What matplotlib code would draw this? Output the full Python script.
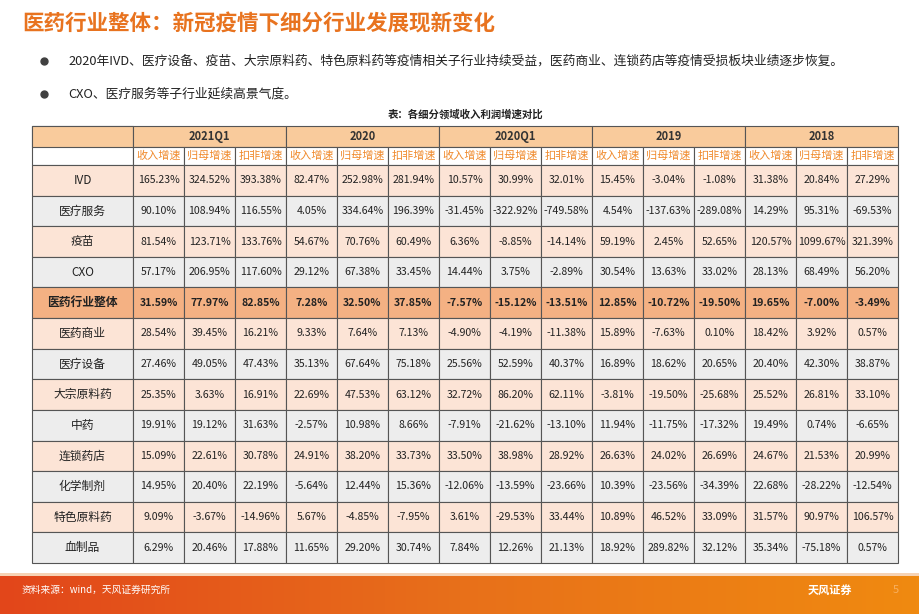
import matplotlib
matplotlib.use("Agg")
import matplotlib.pyplot as plt
from matplotlib.patches import Rectangle
from matplotlib.colors import LinearSegmentedColormap
import numpy as np

plt.rcParams['font.family'] = ['Noto Sans CJK SC', 'DejaVu Sans']

periods = ["2021Q1", "2020", "2020Q1", "2019", "2018"]
metrics = ["收入增速", "归母增速", "扣非增速"]
categories = ["IVD", "医疗服务", "疫苗", "CXO", "医药行业整体", "医药商业", "医疗设备",
              "大宗原料药", "中药", "连锁药店", "化学制剂", "特色原料药", "血制品"]
v_2021q1 = [[165.23, 324.52, 393.38], [90.10, 108.94, 116.55], [81.54, 123.71, 133.76],
            [57.17, 206.95, 117.60], [31.59, 77.97, 82.85], [28.54, 39.45, 16.21],
            [27.46, 49.05, 47.43], [25.35, 3.63, 16.91], [19.91, 19.12, 31.63],
            [15.09, 22.61, 30.78], [14.95, 20.40, 22.19], [9.09, -3.67, -14.96],
            [6.29, 20.46, 17.88]]
v_2020 = [[82.47, 252.98, 281.94], [4.05, 334.64, 196.39], [54.67, 70.76, 60.49],
          [29.12, 67.38, 33.45], [7.28, 32.50, 37.85], [9.33, 7.64, 7.13],
          [35.13, 67.64, 75.18], [22.69, 47.53, 63.12], [-2.57, 10.98, 8.66],
          [24.91, 38.20, 33.73], [-5.64, 12.44, 15.36], [5.67, -4.85, -7.95],
          [11.65, 29.20, 30.74]]
v_2020q1 = [[10.57, 30.99, 32.01], [-31.45, -322.92, -749.58], [6.36, -8.85, -14.14],
            [14.44, 3.75, -2.89], [-7.57, -15.12, -13.51], [-4.90, -4.19, -11.38],
            [25.56, 52.59, 40.37], [32.72, 86.20, 62.11], [-7.91, -21.62, -13.10],
            [33.50, 38.98, 28.92], [-12.06, -13.59, -23.66], [3.61, -29.53, 33.44],
            [7.84, 12.26, 21.13]]
v_2019 = [[15.45, -3.04, -1.08], [4.54, -137.63, -289.08], [59.19, 2.45, 52.65],
          [30.54, 13.63, 33.02], [12.85, -10.72, -19.50], [15.89, -7.63, 0.10],
          [16.89, 18.62, 20.65], [-3.81, -19.50, -25.68], [11.94, -11.75, -17.32],
          [26.63, 24.02, 26.69], [10.39, -23.56, -34.39], [10.89, 46.52, 33.09],
          [18.92, 289.82, 32.12]]
v_2018 = [[31.38, 20.84, 27.29], [14.29, 95.31, -69.53], [120.57, 1099.67, 321.39],
          [28.13, 68.49, 56.20], [19.65, -7.00, -3.49], [18.42, 3.92, 0.57],
          [20.40, 42.30, 38.87], [25.52, 26.81, 33.10], [19.49, 0.74, -6.65],
          [24.67, 21.53, 20.99], [22.68, -28.22, -12.54], [31.57, 90.97, 106.57],
          [35.34, -75.18, 0.57]]
all_vals = [v_2021q1, v_2020, v_2020q1, v_2019, v_2018]

W, H = 920, 614
fig = plt.figure(figsize=(W/100, H/100), dpi=100)
ax = fig.add_axes([0, 0, 1, 1])
ax.set_xlim(0, W); ax.set_ylim(H, 0); ax.axis('off')

ax.text(22, 24, "医药行业整体：新冠疫情下细分行业发展现新变化", fontsize=15.5, color="#E8731F",
        fontweight='bold', va='center')
ax.plot([44], [61], 'o', ms=5, color="#404040")
ax.text(68, 61, "2020年IVD、医疗设备、疫苗、大宗原料药、特色原料药等疫情相关子行业持续受益，医药商业、连锁药店等疫情受损板块业绩逐步恢复。",
        fontsize=9.2, color="#222222", va='center')
ax.plot([44], [94], 'o', ms=5, color="#404040")
ax.text(68, 94, "CXO、医疗服务等子行业延续高景气度。", fontsize=9.2, color="#222222", va='center')
ax.text(466, 114, "表：各细分领域收入利润增速对比", fontsize=7.5, color="#222222",
        ha='center', va='center', fontweight='bold')

x0, lw_, cw = 32, 101, 51
y0, h1, h2 = 126, 21, 18
rh = (563 - (y0 + h1 + h2)) / len(categories)
edge = "#555555"
hdr = "#F9CB9C"

ax.add_patch(Rectangle((x0, y0), lw_, h1 + h2, facecolor="white", edgecolor=edge, lw=0.8))
ax.add_patch(Rectangle((x0, y0), lw_, h1, facecolor=hdr, edgecolor=edge, lw=0.8))
for i, p in enumerate(periods):
    xs = x0 + lw_ + i * 3 * cw
    ax.add_patch(Rectangle((xs, y0), 3 * cw, h1, facecolor=hdr, edgecolor=edge, lw=0.8))
    ax.text(xs + 1.5 * cw, y0 + h1 / 2, p, fontsize=8, fontweight='bold', color="#333333",
            ha='center', va='center')
    for j, m in enumerate(metrics):
        xc = xs + j * cw
        ax.add_patch(Rectangle((xc, y0 + h1), cw, h2, facecolor="white", edgecolor=edge, lw=0.8))
        ax.text(xc + cw / 2, y0 + h1 + h2 / 2, m, fontsize=8, color="#F08A2C",
                ha='center', va='center')

hl_idx = categories.index("医药行业整体")
for r, cat in enumerate(categories):
    yt = y0 + h1 + h2 + r * rh
    hl = r == hl_idx
    k = r if r < hl_idx else r - 1
    fc = "#F4B183" if hl else ("#FCE4D6" if k % 2 == 0 else "#EDEDED")
    wt = 'bold' if hl else 'normal'
    ax.add_patch(Rectangle((x0, yt), lw_, rh, facecolor=fc, edgecolor=edge, lw=0.8))
    ax.text(x0 + lw_ / 2, yt + rh / 2, cat, fontsize=8.5, color="#222222", ha='center',
            va='center', fontweight=wt)
    for i, vals in enumerate(all_vals):
        for j in range(3):
            xc = x0 + lw_ + (i * 3 + j) * cw
            ax.add_patch(Rectangle((xc, yt), cw, rh, facecolor=fc, edgecolor=edge, lw=0.8))
            ax.text(xc + cw / 2, yt + rh / 2, f"{vals[r][j]:.2f}%", fontsize=7.6,
                    color="#222222", ha='center', va='center', fontweight=wt)

grad = np.linspace(0, 1, 256).reshape(1, -1)
cm = LinearSegmentedColormap.from_list("f", ["#E2461A", "#E8701A", "#F08A10"])
ax.imshow(grad, extent=(0, W, H, 575), aspect='auto', cmap=cm, zorder=0)
ax.add_patch(Rectangle((0, 573), W, 3, color="#F6D3B5", lw=0))
ax.text(22, 590, "资料来源：wind，天风证券研究所", fontsize=7, color="white", style='italic', va='center')
ax.text(808, 590, "天风证券", fontsize=8, color="white", va='center', fontweight='bold')
ax.text(893, 590, "5", fontsize=8, color="#F8B060", va='center')
ax.set_xlim(0, W); ax.set_ylim(H, 0)

fig.savefig("out.png", dpi=100)
